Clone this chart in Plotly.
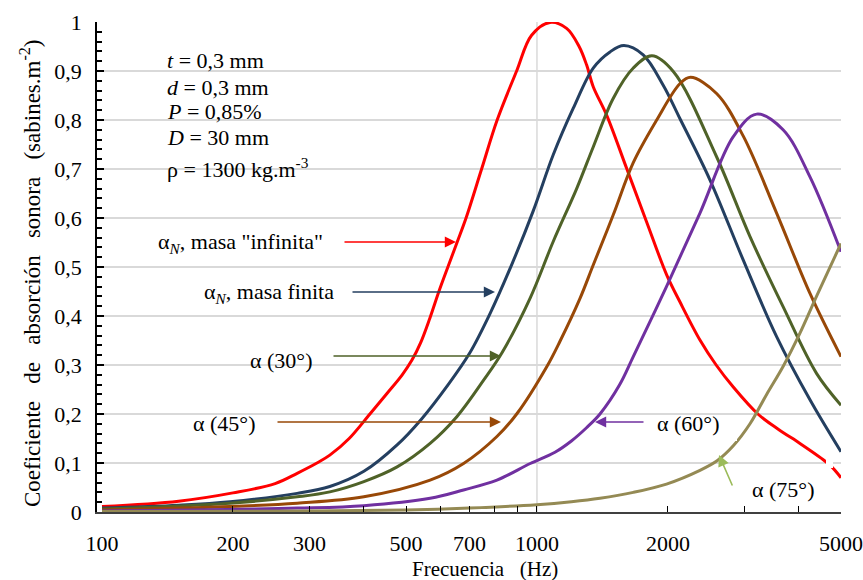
import plotly.graph_objects as go

# ---------------- data ----------------
f_inf = [100, 150, 200, 250, 281, 312, 334, 370, 413, 452, 490, 516, 540, 567, 595, 624, 655, 687, 746,
         810, 898, 972, 1071, 1170, 1250, 1301, 1347, 1446, 1608, 1787, 1987, 2131, 2370, 2582, 2827, 3220,
         3600, 4024, 4500, 4725, 5000]
a_inf = [0.011, 0.022, 0.039, 0.058, 0.079, 0.100, 0.116, 0.150, 0.200, 0.242, 0.280, 0.310, 0.345,
         0.395, 0.450, 0.500, 0.550, 0.600, 0.700, 0.800, 0.900, 0.973, 0.999, 0.987, 0.950, 0.912, 0.868,
         0.810, 0.701, 0.592, 0.484, 0.429, 0.351, 0.300, 0.255, 0.200, 0.168, 0.140, 0.110, 0.095, 0.070]

f_fin = [100, 150, 197, 281, 334, 400, 477, 543, 625, 701, 780, 875, 981, 1090, 1212, 1347, 1472, 1585,
         1755, 1951, 2131, 2498, 2981, 3556, 4243, 5000]
a_fin = [0.008, 0.014, 0.021, 0.038, 0.052, 0.083, 0.137, 0.190, 0.260, 0.325, 0.405, 0.505, 0.615,
         0.729, 0.824, 0.906, 0.939, 0.952, 0.933, 0.871, 0.803, 0.678, 0.514, 0.358, 0.229, 0.123]

f_30 = [100, 197, 281, 334, 400, 477, 568, 655, 754, 831, 964, 1090, 1234, 1347, 1497, 1665, 1838, 2058,
        2588, 3089, 3680, 4392, 5000]
a_30 = [0.006, 0.018, 0.031, 0.041, 0.062, 0.092, 0.140, 0.195, 0.269, 0.325, 0.436, 0.552, 0.660, 0.745,
        0.844, 0.906, 0.931, 0.899, 0.725, 0.562, 0.419, 0.283, 0.218]

f_45 = [100, 197, 281, 400, 568, 678, 809, 900, 1054, 1129, 1256, 1347, 1497, 1665, 1885, 2131, 2255, 2588,
        2981, 3556, 4243, 5000]
a_45 = [0.004, 0.011, 0.018, 0.031, 0.065, 0.099, 0.154, 0.201, 0.297, 0.348, 0.436, 0.504, 0.606, 0.713,
        0.800, 0.874, 0.887, 0.854, 0.767, 0.610, 0.446, 0.317]

f_60 = [100, 281, 400, 568, 678, 809, 965, 1100, 1200, 1300, 1396, 1550, 1665, 1985, 2370, 2827, 3200, 3680,
        4243, 5000]
a_60 = [0.002, 0.008, 0.013, 0.028, 0.045, 0.065, 0.099, 0.122, 0.145, 0.172, 0.200, 0.260, 0.317, 0.460,
        0.610, 0.766, 0.812, 0.780, 0.684, 0.531]

f_75 = [100, 300, 500, 700, 1000, 1200, 1396, 1665, 1985, 2370, 2600, 2827, 3089, 3373, 3680, 4024, 4392, 5000]
a_75 = [0.001, 0.002, 0.004, 0.008, 0.015, 0.021, 0.028, 0.040, 0.057, 0.085, 0.105, 0.135, 0.180, 0.240,
        0.297, 0.365, 0.440, 0.548]

x_tick_vals = [100, 200, 300, 500, 700, 1000, 2000, 5000]
x_tick_text = ["100", "200", "300", "500", "700", "1000", "2000", "5000"]
x_minor_ticks = [200, 300, 400, 500, 600, 700, 800, 900, 1000, 2000, 3000, 4000, 5000]

series = [
    (f_inf, a_inf, "#FF0000"),
    (f_fin, a_fin, "#243F60"),
    (f_30, a_30, "#4F6228"),
    (f_45, a_45, "#984807"),
    (f_60, a_60, "#7030A0"),
    (f_75, a_75, "#948A54"),
]

FONT = "Liberation Serif"
FS = 22

# plot area in pixels
L, R, T, B = 97, 841, 22, 512
W, H = R - L, B - T


def px(x):
    return (x - L) / W


def py(y):
    return (B - y) / H


fig = go.Figure()

# vertical gridline at 1000 Hz
fig.add_trace(go.Scatter(x=[1000, 1000], y=[0, 1], mode="lines",
                         line=dict(color="#D9D9D9", width=1.5), hoverinfo="skip"))

for fx, ay, col in series:
    fig.add_trace(go.Scatter(x=fx, y=ay, mode="lines",
                             line=dict(color=col, width=3, shape="spline", smoothing=1.0)))

# white boxes that interrupt gridlines behind the text boxes
boxes = [
    (148, 40, 293, 155, "between"),
    (148, 155, 330, 183, "between"),
    (232, 348, 330, 376, "between"),
    (175, 408, 275, 436, "between"),
    (637, 408, 737, 436, "between"),
    (731, 434, 737, 441, "above"),
    (826, 460, 833, 468, "above"),
]
shapes = []
for x0, y0, x1, y1, lay in boxes:
    shapes.append(dict(type="rect", xref="paper", yref="paper",
                       x0=px(x0), x1=px(x1), y0=py(y1), y1=py(y0),
                       fillcolor="white", line=dict(width=0), layer=lay))

ann = []


def text(x, y, s, xanchor="left", size=FS):
    ann.append(dict(x=px(x), y=py(y), xref="paper", yref="paper", text=s, showarrow=False,
                    xanchor=xanchor, yanchor="middle", font=dict(family=FONT, size=size, color="black")))


def arrow(tx, ty, hx, hy, col):
    ann.append(dict(x=px(hx), y=py(hy), xref="paper", yref="paper", text="",
                    ax=tx - hx, ay=ty - hy, axref="pixel", ayref="pixel",
                    showarrow=True, arrowhead=2, arrowsize=1.4, arrowwidth=1.6, arrowcolor=col))


# parameter box
text(165, 61, "<i>t</i> = 0,3 mm")
text(165, 87, "<i>d</i> = 0,3 mm")
text(165, 112, "<i>P</i> = 0,85%")
text(165, 137, "<i>D</i> = 30 mm")
text(165, 168, "ρ = 1300 kg.m<sup>-3</sup>")

# curve labels
text(325, 243, "α<sub><i>N</i></sub>, masa \"infinita\"", xanchor="right")
arrow(343, 242, 456, 242, "#FF0000")
text(336, 293, "α<sub><i>N</i></sub>, masa finita", xanchor="right")
arrow(351, 292, 495, 292, "#243F60")
text(281, 360, "α (30°)", xanchor="center")
arrow(332, 356, 501, 356, "#4F6228")
text(224, 423, "α (45°)", xanchor="center")
arrow(276, 422, 501, 422, "#984807")
text(688, 423, "α (60°)", xanchor="center")
arrow(645, 422, 595, 422, "#7030A0")
text(783, 489, "α (75°)", xanchor="center")
arrow(733, 487, 719, 455, "#9BBB59")

# axis titles
text(485, 569, "Frecuencia   (Hz)", xanchor="center", size=21)
ann.append(dict(x=px(30), y=py(273), xref="paper", yref="paper",
                text="Coeficiente   de   absorción   sonora   (sabines.m<sup>-2</sup>)",
                showarrow=False, textangle=-90, xanchor="center", yanchor="middle",
                font=dict(family=FONT, size=23, color="black")))

fig.update_layout(
    width=863, height=580,
    margin=dict(l=L, r=863 - R, t=T, b=580 - B, autoexpand=False),
    paper_bgcolor="white", plot_bgcolor="white",
    showlegend=False,
    separators=",.",
    font=dict(family=FONT, size=FS, color="black"),
    shapes=shapes,
    annotations=ann,
    xaxis=dict(type="log", range=[1.9885, 3.699], automargin=False,
               tickvals=x_tick_vals, ticktext=x_tick_text,
               ticks="inside", ticklen=0, showgrid=False, zeroline=False,
               showline=True, linecolor="#404040", linewidth=1.5,
               minor=dict(tickvals=x_minor_ticks, ticks="inside", ticklen=6, tickcolor="black",
                          tickwidth=1, showgrid=False),
               ticklabelstandoff=11,
               tickfont=dict(family=FONT, size=FS, color="black")),
    yaxis=dict(range=[0, 1.0], dtick=0.1, tick0=0, automargin=False,
               ticks="inside", ticklen=7, tickcolor="black", tickwidth=1.5,
               showgrid=True, gridcolor="#D9D9D9", gridwidth=1.5, zeroline=False,
               showline=True, linecolor="black", linewidth=1.5,
               minor=dict(dtick=0.02, ticks="inside", ticklen=5, tickcolor="black", showgrid=False),
               ticklabelstandoff=9,
               tickfont=dict(family=FONT, size=FS, color="black")),
)

fig.write_html("out.html")
